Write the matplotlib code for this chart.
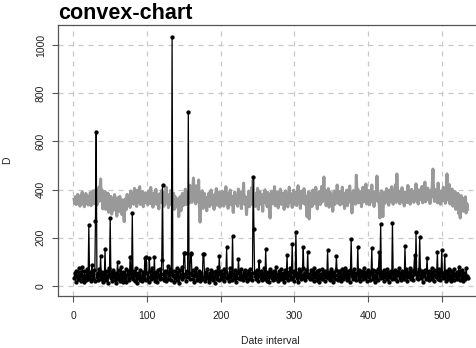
import matplotlib
matplotlib.use('Agg')
import matplotlib.pyplot as plt
import numpy as np

plt.rcParams['font.family'] = ['Liberation Sans', 'DejaVu Sans']

# gray series (upper band), one value per date interval
upper = [
    360, 342, 371, 338, 355, 380, 347, 362, 331, 374, 352, 390, 340, 366, 329, 357, 384, 349, 372, 336,
    361, 345, 388, 333, 369, 352, 395, 341, 374, 358, 402, 336, 380, 349, 411, 365, 444, 352, 398, 320,
    375, 341, 392, 318, 360, 332, 385, 306, 351, 327, 372, 298, 344, 361, 315, 379, 329, 352, 290, 366,
    338, 309, 372, 321, 349, 296, 358, 312, 267, 341, 363, 318, 380, 335, 352, 371, 326, 394, 343, 360,
    384, 339, 405, 352, 371, 330, 398, 347, 366, 412, 338, 375, 356, 392, 329, 368, 345, 387, 351, 374,
    336, 395, 360, 342, 409, 353, 371, 327, 386, 348, 366, 401, 339, 377, 355, 320, 383, 362, 346, 397,
    352, 374, 331, 388, 359, 410, 344, 368, 325, 379, 353, 396, 337, 364, 349, 385, 318, 371, 340, 356,
    327, 362, 288, 345, 371, 312, 356, 384, 333, 367, 349, 402, 338, 376, 355, 391, 343, 418, 360, 382,
    347, 405, 448, 362, 389, 341, 416, 370, 352, 440, 336, 265, 378, 348, 395, 322, 366, 384, 341, 358,
    312, 369, 347, 386, 330, 361, 398, 339, 374, 356, 318, 381, 349, 404, 335, 367, 352, 389, 327, 372,
    346, 393, 360, 331, 377, 354, 412, 340, 369, 322, 385, 356, 398, 337, 372, 349, 305, 366, 390, 343,
    375, 358, 331, 402, 346, 367, 389, 321, 384, 352, 427, 340, 371, 358, 296, 368, 344, 394, 329, 377,
    352, 408, 337, 440, 361, 384, 330, 371, 349, 405, 318, 366, 392, 340, 377, 356, 310, 382, 363, 399,
    345, 371, 329, 388, 354, 317, 282, 362, 393, 341, 374, 356, 412, 333, 368, 350, 391, 324, 379, 357,
    402, 339, 370, 351, 386, 318, 362, 395, 344, 376, 328, 367, 410, 348, 383, 357, 326, 372, 398, 340,
    365, 389, 334, 377, 416, 350, 368, 322, 393, 359, 381, 343, 404, 366, 337, 372, 288, 355, 391, 278,
    347, 386, 362, 330, 398, 354, 375, 341, 409, 366, 320, 384, 356, 392, 338, 371, 413, 349, 380, 452,
    358, 396, 333, 375, 350, 404, 327, 368, 388, 345, 372, 310, 361, 394, 339, 383, 357, 419, 344, 370,
    392, 336, 375, 357, 410, 341, 369, 322, 386, 354, 398, 333, 377, 362, 415, 347, 381, 303, 364, 396,
    350, 378, 339, 460, 366, 402, 345, 380, 356, 391, 329, 374, 410, 349, 385, 362, 423, 340, 372, 355,
    396, 337, 383, 361, 419, 348, 377, 330, 391, 366, 357, 456, 352, 384, 340, 282, 370, 395, 346, 288,
    362, 389, 343, 376, 404, 358, 381, 335, 398, 367, 350, 412, 372, 339, 386, 361, 420, 347, 465, 378,
    356, 393, 341, 384, 365, 408, 349, 374, 332, 390, 362, 379, 346, 417, 358, 386, 339, 372, 401, 355,
    383, 347, 394, 368, 424, 352, 377, 340, 399, 364, 386, 357, 413, 345, 378, 362, 431, 349, 390, 371,
    406, 358, 384, 342, 395, 370, 418, 485, 376, 351, 400, 367, 388, 345, 427, 361, 382, 339, 394, 372,
    352, 410, 368, 387, 343, 398, 465, 374, 356, 421, 340, 385, 363, 402, 331, 377, 358, 392, 318, 369,
    346, 384, 300, 357, 282, 375, 336, 365, 310, 352, 329, 370, 303, 342, 318,
]

# black series (D values with spikes)
d_values = [
    35, 52, 18, 64, 41, 27, 73, 30, 58, 22, 46, 80, 33, 15, 61, 38, 24, 69, 44, 29,
    253, 40, 57, 21, 87, 48, 31, 66, 19, 271, 640, 36, 55, 25, 72, 43, 126, 28, 60, 17,
    50, 34, 153, 23, 63, 39, 14, 76, 45, 283, 32, 59, 20, 67, 37, 26, 53, 12, 42, 101,
    31, 65, 22, 48, 79, 35, 16, 57, 40, 28, 70, 18, 44, 61, 33, 24, 120, 51, 37, 302,
    29, 62, 19, 46, 74, 34, 13, 55, 41, 26, 68, 38, 21, 59, 45, 30, 116, 24, 120, 52,
    36, 17, 116, 63, 42, 28, 75, 33, 49, 120, 22, 58, 39, 15, 66, 44, 27, 71, 35, 108,
    419, 48, 23, 64, 37, 19, 56, 82, 31, 45, 70, 26, 52, 1032, 40, 61, 18, 47, 33, 73,
    25, 57, 39, 14, 66, 43, 29, 78, 36, 136, 136, 50, 21, 62, 38, 721, 54, 27, 136, 133,
    44, 68, 30, 16, 59, 41, 75, 24, 49, 35, 63, 20, 53, 38, 28, 132, 133, 46, 22, 60,
    34, 71, 43, 18, 55, 29, 66, 40, 25, 58, 37, 14, 64, 45, 31, 77, 23, 126, 50, 36,
    62, 27, 48, 19, 69, 39, 56, 160, 33, 44, 21, 73, 38, 59, 26, 209, 47, 30, 65, 42,
    17, 54, 35, 112, 61, 28, 46, 70, 37, 23, 57, 41, 66, 32, 50, 19, 63, 45, 29, 72,
    36, 52, 24, 454, 238, 40, 58, 31, 67, 43, 20, 104, 55, 34, 62, 26, 48, 39, 73, 30,
    155, 45, 22, 60, 38, 16, 71, 47, 33, 56, 25, 64, 41, 29, 78, 36, 51, 19, 62, 44,
    31, 69, 27, 53, 40, 15, 66, 35, 48, 128, 24, 59, 42, 74, 30, 57, 174, 37, 21, 63,
    46, 226, 34, 52, 18, 70, 39, 61, 28, 45, 76, 162, 33, 55, 23, 65, 41, 140, 36, 50,
    27, 68, 44, 31, 59, 20, 73, 38, 54, 25, 63, 42, 16, 67, 35, 49, 29, 72, 40, 58,
    22, 64, 37, 51, 150, 33, 60, 26, 45, 71, 39, 18, 56, 43, 30, 66, 124, 47, 24, 62,
    35, 53, 20, 69, 41, 28, 57, 36, 74, 46, 23, 61, 32, 50, 17, 65, 195, 42, 58, 29,
    70, 38, 25, 55, 44, 160, 31, 67, 19, 52, 40, 63, 27, 48, 76, 34, 57, 21, 45, 66,
    37, 59, 24, 50, 157, 30, 68, 43, 18, 62, 35, 54, 26, 71, 140, 41, 258, 33, 60, 47,
    22, 65, 38, 53, 29, 72, 44, 17, 58, 36, 63, 27, 262, 49, 40, 67, 31, 55, 20, 61,
    45, 73, 34, 52, 25, 64, 39, 57, 28, 166, 42, 69, 19, 56, 37, 48, 75, 30, 61, 43,
    23, 66, 128, 50, 224, 35, 58, 27, 71, 205, 46, 32, 62, 18, 54, 40, 68, 29, 57, 117,
    36, 63, 24, 51, 42, 74, 31, 59, 20, 66, 45, 37, 55, 140, 28, 70, 41, 26, 60, 150,
    33, 52, 47, 128, 22, 64, 38, 56, 30, 69, 43, 19, 61, 35, 53, 26, 72, 40, 48, 29,
    58, 37, 80, 24, 63, 45, 31, 67, 20, 54, 39, 28, 76, 42, 33,
]

x_ticks = [0, 100, 200, 300, 400, 500]
y_ticks = [0, 200, 400, 600, 800, 1000]

fig = plt.figure(figsize=(4.76, 3.48), dpi=100)
# plot region runs a little past the right edge, like the cropped original
ax = fig.add_axes([0.1225, 0.1494, 0.8924, 0.7784])

x_up = np.arange(1, len(upper) + 1)
x_d = np.arange(1, len(d_values) + 1)

ax.plot(x_up, upper, color='#999999', lw=2.2, zorder=2)
ax.plot(x_d, d_values, color='black', lw=0.9, marker='o', ms=3.1,
        markeredgewidth=0, zorder=3)

ax.set_xlim(-20.4, 556)
ax.set_ylim(-41.6, 1082.5)
ax.set_xticks(x_ticks)
ax.set_yticks(y_ticks)
ax.grid(True, color='#c8c8c8', linestyle=(0, (4, 4)), lw=0.9, zorder=0)
ax.set_axisbelow(True)

for side in ['left', 'bottom', 'top', 'right']:
    ax.spines[side].set_color('#555555')
    ax.spines[side].set_linewidth(0.9)

ax.tick_params(axis='both', direction='out', length=4, width=0.8,
               color='#555555', labelsize=7.5, labelcolor='#222222')
ax.tick_params(axis='x', pad=7)
ax.tick_params(axis='y', pad=5, labelrotation=90)
for lbl in ax.get_yticklabels():
    lbl.set_va('center')

ax.set_xlabel('Date interval', fontsize=7.5, color='#222222')
ax.set_ylabel('D', fontsize=7.5, color='#222222')
ax.xaxis.set_label_coords(0.498, -0.148)
ax.yaxis.set_label_coords(-0.109, 0.502)

fig.text(58 / 476, 1 - 19 / 348, 'convex-chart', fontsize=15.5, fontweight='bold',
         ha='left', va='baseline', color='black')

fig.savefig('out.png', dpi=100)
